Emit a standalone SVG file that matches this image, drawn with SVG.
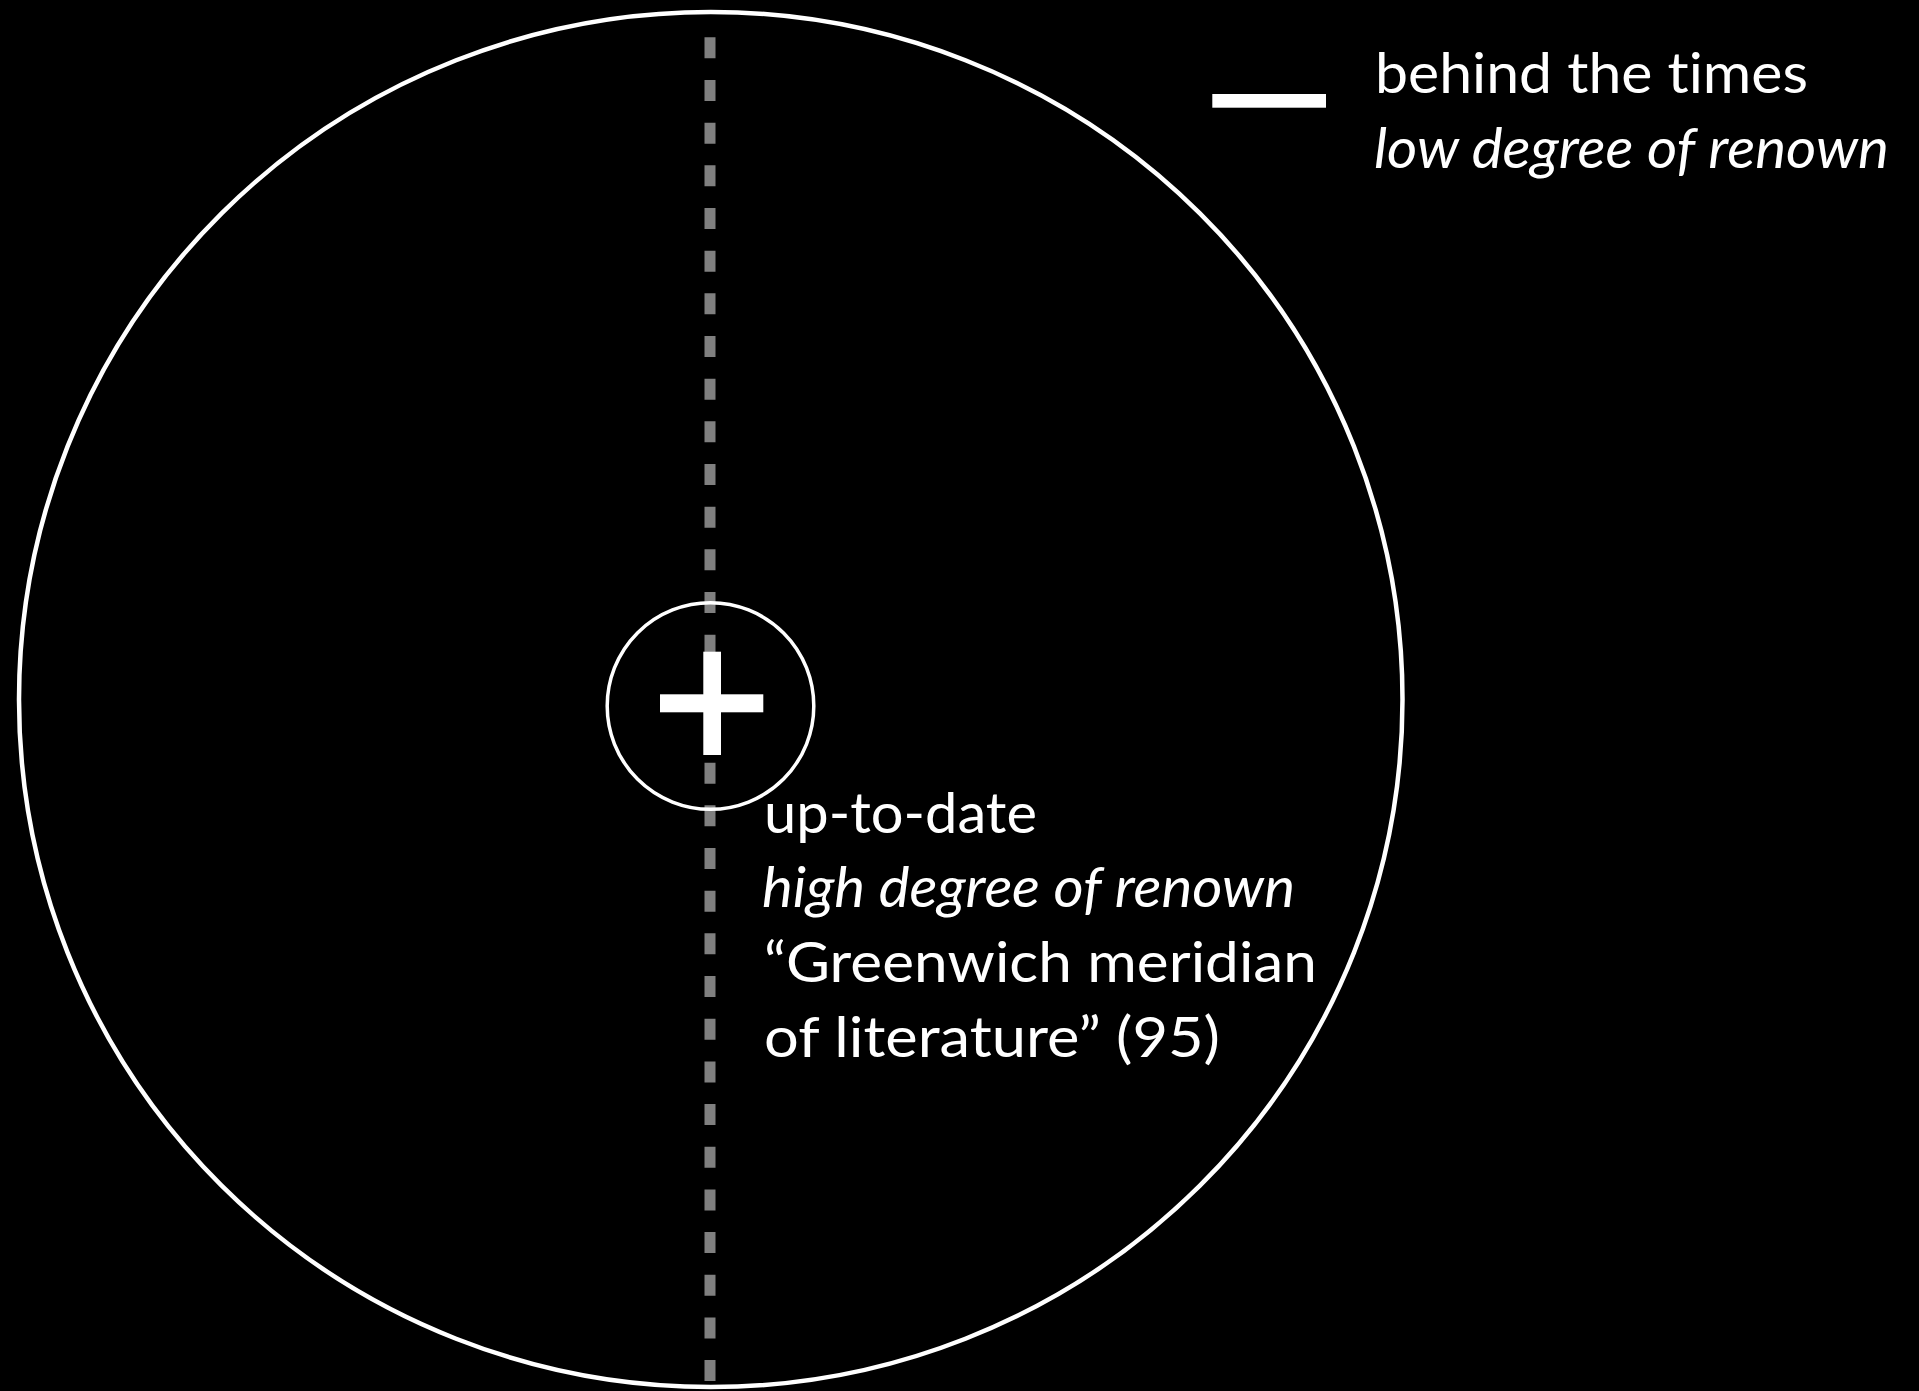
<svg xmlns="http://www.w3.org/2000/svg" width="1919" height="1391" viewBox="0 0 1919 1391">
  <style>
    .t { font-family: "Lato", "Open Sans", "Liberation Sans", sans-serif; font-size: 57px; fill: #ffffff; font-variant-ligatures: none; }
    .i { font-style: italic; }
    .ring { fill: none; stroke: #ffffff; }
  </style>
  <rect x="0" y="0" width="1919" height="1391" fill="#000000"/>
  <g id="connectors">
    <line x1="710" y1="37.3" x2="710" y2="1382" stroke="#808080" stroke-width="11" stroke-dasharray="21 21.67"/>
  </g>
  <g id="outer-circle">
    <ellipse class="ring" cx="710.75" cy="699.5" rx="691.75" ry="687.5" stroke-width="4.5"/>
  </g>
  <g id="center">
    <circle class="ring" cx="710.5" cy="706" r="103.3" stroke-width="3.5"/>
    <rect x="703.3" y="651.7" width="17.7" height="103.3" fill="#ffffff"/>
    <rect x="660" y="694.3" width="103.3" height="18" fill="#ffffff"/>
  </g>
  <g id="legend">
    <rect x="1212.3" y="94" width="113.7" height="13.7" fill="#ffffff"/>
    <text class="t" x="1375" y="93.3" textLength="433" lengthAdjust="spacingAndGlyphs">behind the times</text>
    <text class="t i" x="1374" y="167.7" textLength="515" lengthAdjust="spacingAndGlyphs">low degree of renown</text>
  </g>
  <g id="center-label">
    <text class="t" x="764" y="833.3" textLength="273" lengthAdjust="spacingAndGlyphs">up-to-date</text>
    <text class="t i" x="762" y="907.3" textLength="533" lengthAdjust="spacingAndGlyphs">high degree of renown</text>
    <text class="t" x="764" y="981.7" textLength="553" lengthAdjust="spacingAndGlyphs">“Greenwich meridian</text>
    <text class="t" x="764" y="1056.7" textLength="456" lengthAdjust="spacingAndGlyphs">of literature” (95)</text>
  </g>
</svg>
